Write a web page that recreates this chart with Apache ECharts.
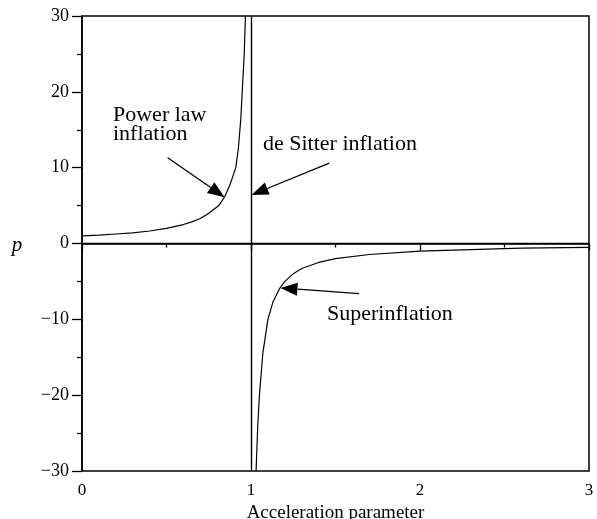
<!DOCTYPE html>
<html>
<head>
<meta charset="utf-8">
<script src="https://cdn.jsdelivr.net/npm/echarts@6/dist/echarts.min.js"></script>
<style>
html,body{margin:0;padding:0;background:#fff;}
#c{width:597px;height:519px;}
</style>
</head>
<body>
<div id="c"></div>
<script>
// Power-law branch (acceleration parameter < 1)
var leftX = [0, 0.1, 0.2, 0.3, 0.4, 0.5, 0.6, 0.65, 0.7, 0.75, 0.81, 0.845, 0.875, 0.91, 0.925, 0.94, 0.948, 0.96, 0.967];
var leftP = [1, 1.1, 1.25, 1.4, 1.65, 2, 2.5, 2.85, 3.3, 4, 5, 6.2, 7.7, 10, 12.5, 16.5, 20, 25, 30];
// Superinflation branch (acceleration parameter > 1)
var rightX = [1.03, 1.04, 1.05, 1.07, 1.1, 1.13, 1.17, 1.2, 1.25, 1.3, 1.4, 1.5, 1.7, 2.0, 2.3, 2.6, 3.0];
var rightP = [-30, -24, -20, -14.5, -10, -7.7, -5.9, -5, -4, -3.3, -2.5, -2, -1.45, -1, -0.8, -0.62, -0.5];
// de Sitter line and p = 0 line
var deSitterX = 1;
var zeroP = 0;
// Annotations: [text lines], arrow start [x,p], arrow tip [x,p]
var annotations = [
  {lines: ['Power law', 'inflation'], from: [0.507, 11.3], to: [0.844, 6.1]},
  {lines: ['de Sitter inflation'], from: [1.463, 10.6], to: [1.003, 6.4]},
  {lines: ['Superinflation'], from: [1.64, -6.6], to: [1.174, -5.87]}
];
var xTicks = {min: 0, max: 3, interval: 1};
var yTicks = {min: -30, max: 30, interval: 10};

var FONT = 'Liberation Serif';
function zip(a, b) { return a.map(function (v, i) { return [v, b[i]]; }); }

var chart = echarts.init(document.getElementById('c'), null, {renderer: 'canvas', width: 597, height: 519});
var option = {
  animation: false,
  backgroundColor: '#fff',
  grid: {left: 82, width: 507, top: 16, height: 455, show: true, borderColor: '#000', borderWidth: 1.5,
    containLabel: false, outerBoundsMode: 'none'},
  xAxis: {
    type: 'value', min: xTicks.min, max: xTicks.max, interval: xTicks.interval,
    name: 'Acceleration parameter', nameLocation: 'middle', nameGap: 29,
    nameTextStyle: {fontFamily: FONT, fontSize: 19, color: '#000'},
    axisLine: {lineStyle: {color: '#000', width: 1.5}},
    axisTick: {length: 7, lineStyle: {color: '#000', width: 1.3}},
    minorTick: {show: true, splitNumber: 2, length: 4, lineStyle: {color: '#000', width: 1.3}},
    splitLine: {show: false},
    axisLabel: {fontFamily: FONT, fontSize: 17, color: '#000', margin: 11}
  },
  yAxis: {
    type: 'value', min: yTicks.min, max: yTicks.max, interval: yTicks.interval,
    axisLine: {lineStyle: {color: '#000', width: 1.5}},
    axisTick: {length: 10, lineStyle: {color: '#000', width: 1.3}},
    minorTick: {show: true, splitNumber: 2, length: 5, lineStyle: {color: '#000', width: 1.3}},
    splitLine: {show: false},
    axisLabel: {fontFamily: FONT, fontSize: 18, color: '#000', margin: 13,
      formatter: function (v) { return v < 0 ? '\u2212' + (-v) : String(v); }}
  },
  series: [
    {type: 'line', data: zip(leftX, leftP), showSymbol: false, symbol: 'none',
      lineStyle: {color: '#000', width: 1.2}, silent: true,
      markLine: {silent: true, symbol: 'none', label: {show: false},
        lineStyle: {color: '#000', width: 1.4, type: 'solid'},
        data: [{yAxis: zeroP}, {xAxis: deSitterX}]}},
    {type: 'line', data: zip(rightX, rightP), showSymbol: false, symbol: 'none',
      lineStyle: {color: '#000', width: 1.2}, silent: true}
  ]
};
chart.setOption(option);

function arrow(from, to) {
  var p1 = chart.convertToPixel({gridIndex: 0}, from);
  var p2 = chart.convertToPixel({gridIndex: 0}, to);
  var dx = p2[0] - p1[0], dy = p2[1] - p1[1];
  var len = Math.sqrt(dx * dx + dy * dy);
  var ux = dx / len, uy = dy / len;
  var L = 17, W = 6.5;
  var bx = p2[0] - ux * L, by = p2[1] - uy * L;
  var nx = -uy, ny = ux;
  return [
    {type: 'line', shape: {x1: p1[0], y1: p1[1], x2: bx, y2: by}, style: {stroke: '#000', lineWidth: 1.3}, z: 10},
    {type: 'polygon', shape: {points: [[p2[0], p2[1]], [bx + nx * W, by + ny * W], [bx - nx * W, by - ny * W]]}, style: {fill: '#000'}, z: 10}
  ];
}

var textPos = [
  [{x: 113, y: 115}, {x: 113, y: 134.5}],
  [{x: 263, y: 144}],
  [{x: 327, y: 314}]
];
var graphics = [];
annotations.forEach(function (a, i) {
  a.lines.forEach(function (t, j) {
    graphics.push({type: 'text', x: textPos[i][j].x, y: textPos[i][j].y, z: 10,
      style: {text: t, font: '22px "' + FONT + '"', fill: '#000', textAlign: 'left', textVerticalAlign: 'middle'}});
  });
  graphics = graphics.concat(arrow(a.from, a.to));
});
graphics.push({type: 'text', x: 17, y: 245, z: 10,
  style: {text: 'p', font: 'italic 21px "' + FONT + '"', fill: '#000', textAlign: 'center', textVerticalAlign: 'middle'}});
chart.setOption({graphic: graphics});
</script>
</body>
</html>
